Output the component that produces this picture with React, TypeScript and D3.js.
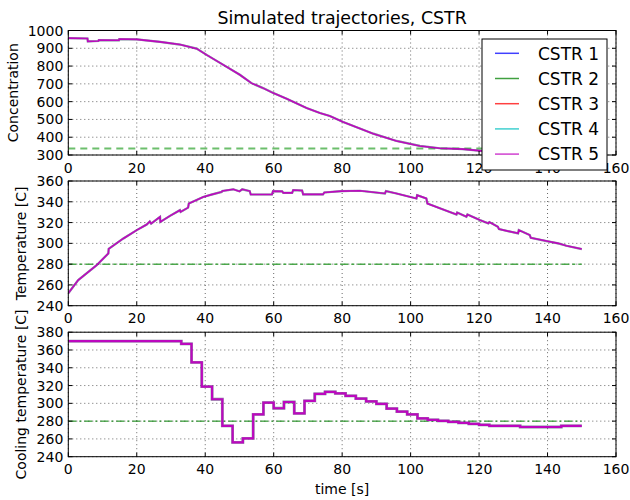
import React from 'react';
import * as d3 from 'd3';

// ---------------- data ----------------
const seriesNames = ['CSTR 1', 'CSTR 2', 'CSTR 3', 'CSTR 4', 'CSTR 5'];
const seriesColors = ['#0000ff', '#008000', '#ff0000', '#00bfbf', '#bf00bf'];

const xTickValues = [0, 20, 40, 60, 80, 100, 120, 140, 160];
const concTicks = [300, 400, 500, 600, 700, 800, 900, 1000];
const tempTicks = [240, 260, 280, 300, 320, 340, 360];
const coolTicks = [240, 260, 280, 300, 320, 340, 360, 380];

const concTime = [0, 5.6, 5.7, 8.8, 8.9, 14.8, 14.9, 20, 26.8, 32.6, 37.5, 40.4, 45.3, 50.1, 53.5, 56.9, 59.9, 63.8, 69.6, 73.5, 76.4, 80.3, 89.1, 95.9, 102.7, 108.5, 115.3, 120.7, 135, 150];
const concValues = [957, 955, 939, 941, 946, 945, 952, 950, 936, 921, 898, 863, 807, 751, 704, 676, 648, 616, 564, 536, 519, 485, 420, 379, 351, 338, 333, 323, 316, 312];

const tempTime = [0, 2.9, 8.3, 11.7, 11.8, 16.1, 20, 22.9, 23.8, 24.2, 26.8, 26.9, 29.7, 32.6, 32.8, 35, 35.2, 39.4, 41.8, 44.8, 45, 48.2, 50, 50.8, 53, 53.3, 59.5, 59.8, 62.5, 62.8, 65.4, 65.7, 68.3, 68.6, 74.4, 74.8, 79.8, 85.2, 92.5, 92.8, 95.9, 101.7, 101.9, 104.6, 104.9, 109.5, 113.4, 113.6, 116.3, 116.6, 120.2, 122.7, 123, 125.5, 125.8, 131.4, 131.6, 134.8, 135.1, 139.7, 143.1, 145.5, 150];
const tempValues = [252, 264.7, 279, 290.3, 294.6, 304.7, 312.7, 318.1, 321, 319, 325.5, 320.6, 326.4, 331.9, 330.3, 334.4, 338.3, 344.6, 346.9, 349.5, 350.4, 352, 350, 352, 350.3, 347, 347, 350.3, 350, 348.6, 348.6, 351.3, 350.8, 347.1, 347.1, 349, 350.3, 350.6, 348, 350.3, 348, 343.2, 346.4, 343.2, 338.3, 332.6, 327.8, 329.7, 325.6, 327.8, 322.4, 319.2, 320.5, 316, 313.7, 309.6, 312.8, 308, 305.4, 302.2, 300, 297.7, 294.5];

const coolTime = [0, 33, 36, 39, 42, 45, 48, 51, 54, 57, 60, 63, 66, 69, 72, 75, 78, 81, 84, 87, 90, 93, 96, 99, 102, 105, 108, 111, 114, 117, 120, 123, 126, 129, 132, 135, 138, 141, 144, 147, 150];
const coolValues = [370, 366.8, 346, 318.8, 304.6, 274.6, 256.2, 260.7, 287.7, 300.8, 294.5, 301.5, 288.8, 302.7, 310.6, 312.8, 311.3, 308.3, 305.3, 302.3, 299.3, 294, 290.7, 287.7, 283.2, 281.3, 280.2, 279.1, 278, 276.8, 275.7, 274.6, 274.6, 274.6, 273.4, 273.4, 273.4, 273.4, 274.6, 274.6, 274.6];

const concReference = 336;
const tempReference = 280;
const coolReference = 280;
const refEnd = 150;

const titleText = 'Simulated trajectories, CSTR';
const yLabels = ['Concentration', 'Temperature [C]', 'Cooling temperature [C]'];
const xLabelText = 'time [s]';

// ---------------- layout ----------------
const W = 630;
const H = 500;
const FONT = '"DejaVu Sans", sans-serif';
const LEFT = 68.3;
const RIGHT = 616;

type Pt = [number, number];

export default function App() {
  const x = d3.scaleLinear().domain([0, 160]).range([LEFT, RIGHT]);

  const panels = [
    {
      top: 30.5, bottom: 155, domain: [300, 1000], ticks: concTicks,
      data: concTime.map((t, i) => [t, concValues[i]] as Pt),
      ref: concReference, refColor: '#5cb85c', refWidth: 2, refDash: '7,5', refOpacity: 0.9,
      curve: d3.curveLinear, lw: 1.6, label: yLabels[0], labelX: 18.3,
    },
    {
      top: 181, bottom: 305.7, domain: [240, 360], ticks: tempTicks,
      data: tempTime.map((t, i) => [t, tempValues[i]] as Pt),
      ref: tempReference, refColor: '#3aa03a', refWidth: 1.5, refDash: '8,3,3,3', refOpacity: 0.9,
      curve: d3.curveLinear, lw: 1.6, label: yLabels[1], labelX: 26,
    },
    {
      top: 332.2, bottom: 456.7, domain: [240, 380], ticks: coolTicks,
      data: coolTime.map((t, i) => [t, coolValues[i]] as Pt),
      ref: coolReference, refColor: '#008000', refWidth: 1, refDash: '8,3,2,3', refOpacity: 1,
      curve: d3.curveStepAfter, lw: 2.2, label: yLabels[2], labelX: 26,
    },
  ];

  return (
    <svg width={W} height={H} style={{ position: 'absolute', left: 0, top: 0, background: '#fff' }} fontFamily={FONT}>
      <rect x={0} y={0} width={W} height={H} fill="#fff" />
      <text x={(LEFT + RIGHT) / 2} y={24} textAnchor="middle" fontSize={17.4} fill="#000">{titleText}</text>
      {panels.map((p, pi) => {
        const y = d3.scaleLinear().domain(p.domain).range([p.bottom, p.top]);
        const line = d3.line<Pt>().x(d => x(d[0])).y(d => y(d[1])).curve(p.curve);
        const path = line(p.data) || '';
        const clipId = `clip${pi}`;
        return (
          <g key={pi}>
            <defs>
              <clipPath id={clipId}>
                <rect x={LEFT} y={p.top} width={RIGHT - LEFT} height={p.bottom - p.top} />
              </clipPath>
            </defs>
            {/* grid */}
            {xTickValues.map(t => (
              <line key={'gx' + t} x1={x(t)} x2={x(t)} y1={p.top} y2={p.bottom} stroke="#000" strokeWidth={0.6} strokeDasharray="1,3" />
            ))}
            {p.ticks.map(v => (
              <line key={'gy' + v} x1={LEFT} x2={RIGHT} y1={y(v)} y2={y(v)} stroke="#000" strokeWidth={0.6} strokeDasharray="1,3" />
            ))}
            <g clipPath={`url(#${clipId})`}>
              {/* reference */}
              <line x1={x(0)} x2={x(refEnd)} y1={y(p.ref)} y2={y(p.ref)} stroke={p.refColor} strokeWidth={p.refWidth} strokeDasharray={p.refDash} opacity={p.refOpacity} />
              {seriesColors.map((c, si) => (
                <path key={si} d={path} fill="none" stroke={c} strokeWidth={si === seriesColors.length - 1 ? p.lw : p.lw + 0.6} strokeOpacity={si === seriesColors.length - 1 ? 0.95 : 0.2} strokeLinejoin="miter" />
              ))}
            </g>
            {/* frame */}
            <rect x={LEFT} y={p.top} width={RIGHT - LEFT} height={p.bottom - p.top} fill="none" stroke="#000" strokeWidth={1} />
            {/* ticks */}
            {xTickValues.map(t => (
              <g key={'tx' + t}>
                <line x1={x(t)} x2={x(t)} y1={p.bottom} y2={p.bottom - 4} stroke="#000" strokeWidth={1} />
                <line x1={x(t)} x2={x(t)} y1={p.top} y2={p.top + 4} stroke="#000" strokeWidth={1} />
                <text x={x(t)} y={p.bottom + 17.5} textAnchor="middle" fontSize={14} fill="#000">{t}</text>
              </g>
            ))}
            {p.ticks.map(v => (
              <g key={'ty' + v}>
                <line x1={LEFT} x2={LEFT + 4} y1={y(v)} y2={y(v)} stroke="#000" strokeWidth={1} />
                <line x1={RIGHT} x2={RIGHT - 4} y1={y(v)} y2={y(v)} stroke="#000" strokeWidth={1} />
                <text x={LEFT - 5} y={y(v)} dy="0.36em" textAnchor="end" fontSize={14} fill="#000">{v}</text>
              </g>
            ))}
            <text transform={`translate(${p.labelX},${(p.top + p.bottom) / 2}) rotate(-90)`} textAnchor="middle" fontSize={14} fill="#000">{p.label}</text>
          </g>
        );
      })}
      <text x={(LEFT + RIGHT) / 2} y={494} textAnchor="middle" fontSize={14} fill="#000">{xLabelText}</text>
      {/* legend */}
      <g>
        <rect x={482} y={39} width={125} height={131} fill="#fff" stroke="#000" strokeWidth={1} />
        {seriesNames.map((n, i) => {
          const cy = 53.3 + i * 25.2;
          return (
            <g key={n}>
              <line x1={495} x2={519} y1={cy} y2={cy} stroke={seriesColors[i]} strokeWidth={1.5} strokeOpacity={0.75} />
              <text x={538} y={cy + 6.2} fontSize={17} fill="#000">{n}</text>
            </g>
          );
        })}
      </g>
    </svg>
  );
}
